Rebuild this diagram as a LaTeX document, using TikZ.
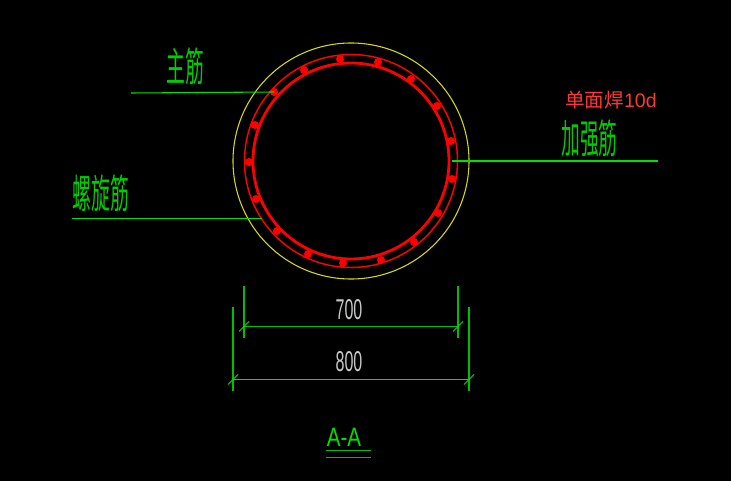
\documentclass[tikz,border=0pt]{standalone}
\usepackage{fontspec}
\setmainfont{Liberation Sans}
\newfontfamily\cjk{Noto Sans CJK SC}
\definecolor{cadgreen}{RGB}{0,225,0}
\definecolor{labelgreen}{RGB}{0,205,0}
\definecolor{dimgreen}{RGB}{0,190,0}
\definecolor{cadyellow}{RGB}{215,215,30}
\definecolor{cadred}{RGB}{255,0,0}
\definecolor{notered}{RGB}{255,55,55}
\definecolor{dimtext}{RGB}{200,200,200}
\tikzset{
  x=0.75pt,y=-0.75pt,
  leaderline/.style={cadgreen,line width=0.8pt},
  dimline/.style={dimgreen,line width=1pt},
  tickmark/.style={cadgreen,line width=0.6pt},
  cadlabel/.style={labelgreen,inner sep=0pt,font=\cjk\fontsize{30}{30}\selectfont,xscale=0.47,transform shape},
  dimlabel/.style={dimtext,inner sep=0pt,font=\fontsize{21.5}{22}\selectfont,xscale=0.56,transform shape},
  rebar/.style={circle,fill=cadred,inner sep=0pt,minimum size=6pt},
}
\begin{document}
\begin{tikzpicture}
\useasboundingbox (0,0) rectangle (742,481);
\fill[white] (0,0) rectangle (742,481);
\fill[black] (0,0) rectangle (731,481);
% rings
\coordinate (c) at (351,161);
\draw[cadyellow,line width=0.8pt] (c) circle[radius=118];
\draw[cadred,line width=1.1pt] (c) circle[radius=106.5];
\draw[cadred,line width=2.1pt] (c) circle[radius=98];
% rebars
\foreach \n/\px/\py in {a/340/59,b/378/62,c1/411/79,d/437/106,e/451/141,f/452/179,g/438/213,h/414/242,i/381/260,j/343/263,k/308/254,l/277/231,m/256/199,n/249/162,o/255/125,p/274/92,q/304/70}
  \node[rebar] (bar\n) at (\px,\py) {};
% leaders
\coordinate (l1) at (131,93);
\coordinate (l2) at (72,218.5);
\coordinate (r2) at (262,218.5);
\coordinate (l3) at (658,161);
\coordinate (r3) at (452,161);
\draw[leaderline] (l1) -- (barp.center);
\draw[leaderline] (l2) -- (r2);
\draw[leaderline] (l3) -- (r3);
\node[cadlabel] (zhu) at (185.5,66) {主筋};
\node[cadlabel] (luo) at (101,193.5) {螺旋筋};
\node[cadlabel] (jia) at (589.5,138.5) {加强筋};
\node[notered,inner sep=0pt,font=\fontsize{14.7}{16}\selectfont,anchor=west] (weld) at (565,100) {{\cjk 单面焊}10d};
% dimensions
\coordinate (a1) at (244,286); \coordinate (a2) at (244,338);
\coordinate (b1) at (458,286); \coordinate (b2) at (458,338);
\coordinate (a3) at (244,326.5); \coordinate (b3) at (458,326.5);
\coordinate (c1) at (233,307); \coordinate (c2) at (233,391);
\coordinate (d1) at (469,307); \coordinate (d2) at (469,391);
\coordinate (c3) at (233,379.5); \coordinate (d3) at (469,379.5);
\draw[dimline] (a1) -- (a2);
\draw[dimline,line width=1.4pt] (b1) -- (b2);
\draw[dimline,line width=1.3pt] (c1) -- (c2);
\draw[dimline] (d1) -- (d2);
\draw[dimline,line width=1.2pt] (a3) -- (b3);
\draw[leaderline] (c3) -- (d3);
\foreach \t in {a3,b3,c3,d3}
  \draw[tickmark] ([shift={(-5,5)}]\t) -- ([shift={(5,-5)}]\t);
\node[dimlabel] (t700) at (349,310) {700};
\node[dimlabel] (t800) at (349,362) {800};
% title
\node[cadgreen,inner sep=0pt,font=\fontsize{20}{22}\selectfont,xscale=0.77,transform shape] (title) at (344,437) {A-A};
\coordinate (u1) at (326,450.5); \coordinate (v1) at (371,450.5);
\coordinate (u2) at (326,457.5); \coordinate (v2) at (371,457.5);
\draw[dimline] (u1) -- (v1);
\draw[dimline] (u2) -- (v2);
\end{tikzpicture}
\end{document}
